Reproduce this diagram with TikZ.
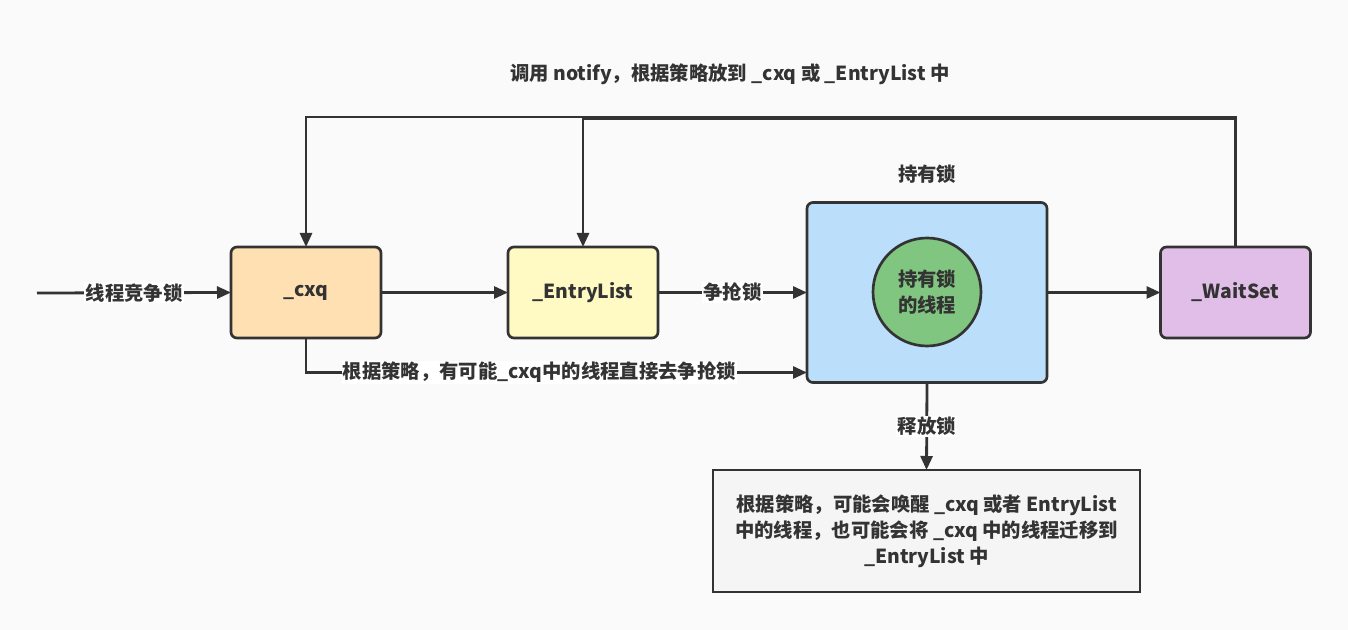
\documentclass[tikz,border=0pt]{standalone}
\usepackage{fontspec}
\setmainfont{Noto Sans CJK SC}
\usetikzlibrary{arrows.meta,calc}
\definecolor{ink}{HTML}{333333}
\definecolor{bg}{HTML}{FAFAFA}
\definecolor{cxqc}{HTML}{FFE0B3}
\definecolor{elc}{HTML}{FFF9C4}
\definecolor{holdc}{HTML}{BBDEFB}
\definecolor{thrc}{HTML}{80C680}
\definecolor{wsc}{HTML}{E1BEE7}
\definecolor{relc}{HTML}{F5F5F5}
\tikzset{
  txt/.style={text=ink, font=\fontsize{14.5}{19.5}\selectfont\bfseries},
  box/.style={txt, draw=ink, line width=2pt, rounded corners=4.5pt, minimum width=112.5pt, minimum height=68.25pt, inner sep=0pt, outer sep=0pt},
  bigbox/.style={draw=ink, line width=2pt, rounded corners=4.5pt, fill=holdc, minimum width=180pt, minimum height=135pt, inner sep=0pt, outer sep=0pt},
  circ/.style={txt, circle, draw=ink, line width=2pt, fill=thrc, minimum size=81pt, inner sep=0pt, align=center},
  relbox/.style={txt, draw=ink, line width=2pt, fill=relc, minimum width=320.25pt, minimum height=91.5pt, inner sep=0pt, outer sep=0pt, align=center},
  lab/.style={txt, fill=white, inner sep=1pt},
  arr/.style={draw=ink, line width=2.1pt, -{Triangle[length=10.5pt,width=9pt]}},
}
\begin{document}
\begin{tikzpicture}[x=0.75pt,y=-0.75pt]
\fill[bg] (0,0) rectangle (1348,630);
\useasboundingbox (0,0) rectangle (1348,630);

\node[box, fill=cxqc] (cxq) at (306,292.5) {\_cxq};
\node[box, fill=elc] (el) at (583,292.5) {\_EntryList};
\node[bigbox] (hold) at (927,292.5) {};
\node[circ] (thr) at (927,292) {持有锁\\的线程};
\node[box, fill=wsc] (ws) at (1235.5,292.5) {\_WaitSet};
\node[relbox] (rel) at (926.5,531) {根据策略，可能会唤醒 \_cxq 或者 EntryList\\中的线程，也可能会将 \_cxq 中的线程迁移到\\\_EntryList 中};
\coordinate (start) at (37,293);
\node[txt] (holdlbl) at (927,174) {持有锁};
\node[txt] (toplbl) at (730,74) {调用 notify，根据策略放到 \_cxq 或 \_EntryList 中};

\draw[arr] (start) -- node[lab]{线程竞争锁} (cxq.west);
\draw[arr] (cxq) -- (el);
\draw[arr] (el) -- node[lab]{争抢锁} (hold);
\draw[arr] (hold.east |- ws.west) -- (ws.west);
\draw[arr] (cxq.south) |- node[lab, pos=0.733]{根据策略，有可能\_cxq中的线程直接去争抢锁} ($(hold.south west)+(0,-10)$);
\draw[arr] (ws.north) -- ++(0,-130) -| (cxq.north);
\draw[arr] (ws.north) -- ++(0,-128) -| (el.north);
\draw[arr] (hold.south) -- node[lab]{释放锁} (rel.north);
\end{tikzpicture}
\end{document}
